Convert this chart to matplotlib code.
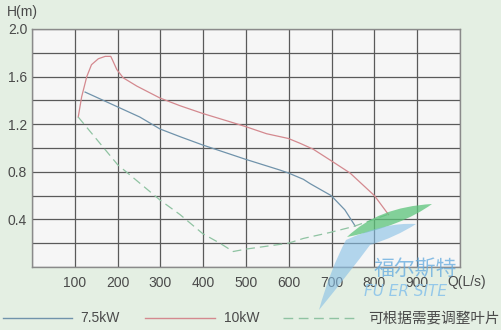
import matplotlib
matplotlib.use("Agg")
import matplotlib.pyplot as plt
from matplotlib.lines import Line2D
from matplotlib.patches import PathPatch
from matplotlib.path import Path

# pump curves
q_75 = [124, 182, 252, 299, 346, 399, 499, 579, 599, 634, 650, 699, 731, 755]
h_75 = [1.47, 1.375, 1.26, 1.16, 1.095, 1.025, 0.905, 0.815, 0.79, 0.737, 0.70, 0.60, 0.48, 0.345]

q_10 = [108, 116, 128, 139, 155, 171, 184, 188, 198, 213, 245, 299, 346, 399, 463, 499,
        548, 599, 626, 657, 696, 743, 800, 833]
h_10 = [1.26, 1.43, 1.60, 1.70, 1.75, 1.77, 1.77, 1.74, 1.66, 1.59, 1.52, 1.42, 1.355, 1.29,
        1.22, 1.18, 1.12, 1.08, 1.04, 0.99, 0.90, 0.79, 0.60, 0.44]

q_adj = [108, 200, 300, 346, 399, 439, 470, 499, 599, 634, 696, 751, 830]
h_adj = [1.26, 0.86, 0.56, 0.44, 0.28, 0.20, 0.13, 0.15, 0.20, 0.24, 0.29, 0.34, 0.44]

x_ticks = [100, 200, 300, 400, 500, 600, 700, 800, 900]
y_ticks = [0.4, 0.8, 1.2, 1.6, 2.0]
legend_labels = ["7.5kW", "10kW", "可根据需要调整叶片"]

BG = "#e4efe3"
TXT = "#4a4a4a"
C_BLUE = "#7093ab"
C_RED = "#d4898f"
C_GREEN = "#8fc3a2"
CJK = ["Noto Sans CJK SC", "DejaVu Sans"]

W, H = 502, 330
fig = plt.figure(figsize=(W / 100, H / 100), dpi=100, facecolor=BG)
ax = fig.add_axes([32 / W, (H - 267) / H, 428 / W, 238 / H])
ax.set_facecolor("#f6f6f6")

ax.plot(q_75, h_75, color=C_BLUE, lw=0.9)
ax.plot(q_10, h_10, color=C_RED, lw=0.9)
ax.plot(q_adj, h_adj, color=C_GREEN, lw=0.9, dashes=(7, 4))

ax.set_xlim(0, 1000)
ax.set_ylim(0, 2.0)
xs = list(range(0, 1001, 100))
ys = [i * 0.2 for i in range(11)]
ax.set_xticks(xs)
ax.set_yticks(ys)
ax.set_xticklabels([str(v) if v in x_ticks else "" for v in xs])
ax.set_yticklabels([f"{v:.1f}" if any(abs(v - t) < 1e-6 for t in y_ticks) else "" for v in ys])
ax.grid(True, color="#5a5a5a", lw=0.9)
ax.tick_params(length=0, labelsize=10, colors=TXT)
ax.tick_params(axis="x", pad=6.5)
ax.tick_params(axis="y", pad=3.5)
for s in ax.spines.values():
    s.set_color("#8a8a8a")
    s.set_linewidth(1.0)
for lab in ax.get_xticklabels() + ax.get_yticklabels():
    lab.set_family("Liberation Sans")

fig.text(7 / W, 1 - 12 / H, "H(m)", fontsize=10, color=TXT, family="Liberation Sans", va="center")
fig.text(447 / W, 1 - 282 / H, "Q(L/s)", fontsize=10, color=TXT, family="Liberation Sans", va="center")

# overlay in pixel units for legend and watermark
ov = fig.add_axes([0, 0, 1, 1], facecolor="none")
ov.set_xlim(0, W)
ov.set_ylim(H, 0)
ov.axis("off")

# watermark logo (rough)
Q3 = Path.CURVE3
leaf = Path([(347, 237), (378, 207), (432, 204), (402, 226), (347, 237)],
            [Path.MOVETO, Q3, Q3, Q3, Q3])
ov.add_patch(PathPatch(leaf, facecolor="#5cc47a", alpha=0.75, lw=0))
blue_f = Path([(346, 240), (385, 222), (416, 224), (396, 237), (370, 245),
               (350, 272), (319, 310), (330, 270), (346, 240)],
              [Path.MOVETO, Q3, Q3, Q3, Q3, Q3, Q3, Q3, Q3])
ov.add_patch(PathPatch(blue_f, facecolor="#86bfe6", alpha=0.6, lw=0))
ov.text(415, 269, "福尔斯特", fontsize=15, color="#6aaee0", alpha=0.8, style="italic",
        family=CJK, ha="center", va="center")
ov.text(406, 292, "FU ER SITE", fontsize=11, color="#8cc4ea", alpha=0.9, style="italic",
        family="DejaVu Sans", ha="center", va="center")

# legend
handles = [((3, 72), C_BLUE, "-"), ((145, 215), C_RED, "-"), ((283, 356), C_GREEN, "--")]
text_x = [80, 224, 368]
for ((x0, x1), c, ls), tx, lab in zip(handles, text_x, legend_labels):
    ln = Line2D([x0, x1], [318, 318], color=c, lw=1.0, linestyle=ls)
    if ls == "--":
        ln.set_dashes((7, 4))
    ov.add_line(ln)
    cjk = tx == 368
    ov.text(tx, 318, lab, fontsize=10.5 if cjk else 10, color=TXT,
            family=CJK if cjk else "Liberation Sans", va="center")

fig.savefig("out.png", dpi=100, facecolor=BG)
